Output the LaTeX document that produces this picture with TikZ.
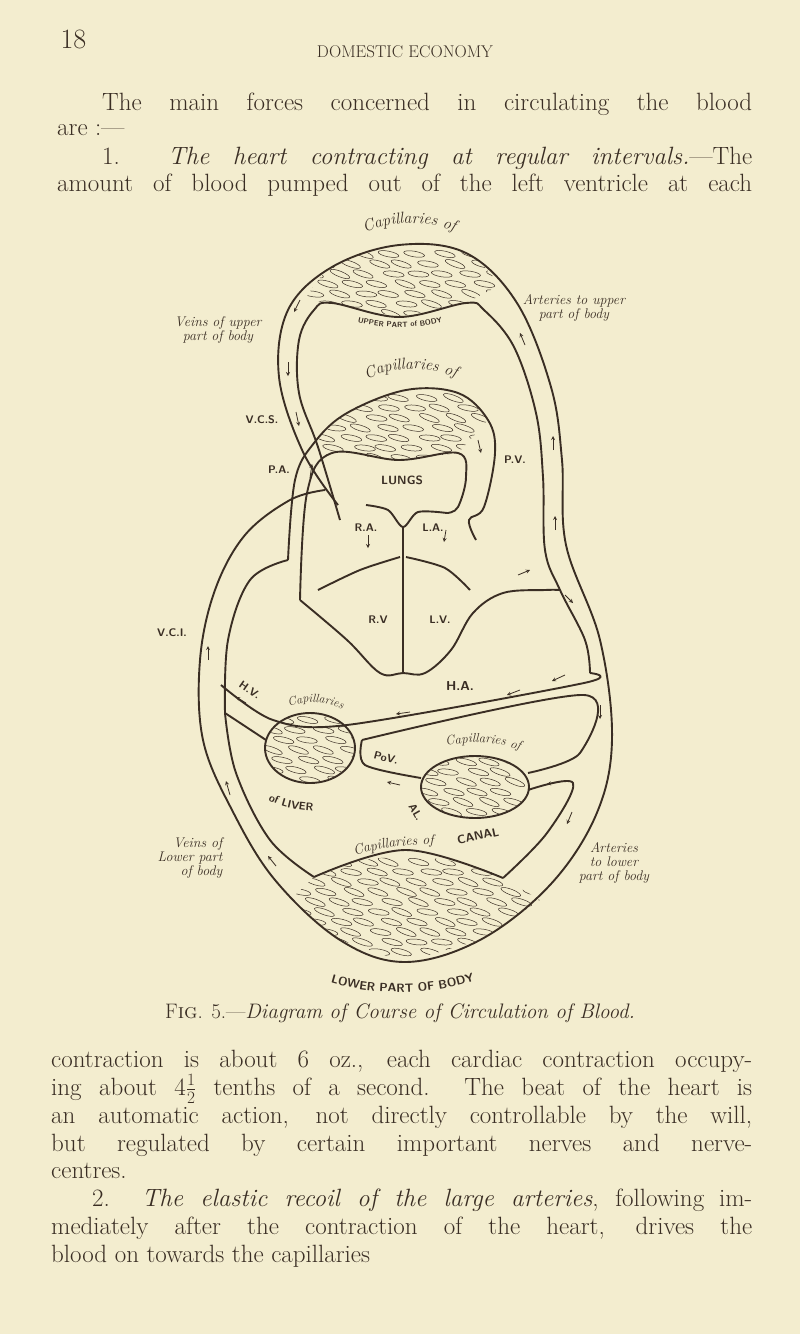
\documentclass[tikz,border=0pt]{standalone}
\usepackage{tikz}
\usetikzlibrary{decorations.text}

\definecolor{paper}{HTML}{F3EDCF}
\definecolor{ink}{HTML}{3A2E24}

\tikzset{
  vessel/.style={draw=ink, line width=1.9pt, line join=round},
  capil/.style={draw=ink, line width=0.5pt},
  flowarrow/.style={draw=ink, line width=0.8pt, -stealth},
  hand/.style={text=ink, font=\fontsize{14}{14}\selectfont\itshape, align=center, inner sep=0pt},
  caps/.style={text=ink, font=\fontsize{11}{12}\selectfont\sffamily\bfseries, inner sep=0pt},
  textline/.style={text=ink, anchor=base west, inner sep=0pt, font=\fontsize{25}{28}\selectfont}
}

% one justified line of the page
\newcommand\pageline[4]{\node[textline] (#1) at (#2,#3) {\makebox[\dimexpr752pt-#2pt\relax][s]{#4}};}
\newcommand\lastline[4]{\node[textline] (#1) at (#2,#3) {#4};}

% capillary pattern inside a clipped region
\newcommand\capillaries[5]{%
  \begin{scope}
    \clip #1;
    \foreach \y [count=\r] in {#4,#5,...,#3} {
      \foreach \x in {#2} {
        \pgfmathsetmacro\tilt{-14+rand*8}
        \pgfmathsetmacro\xx{\x+mod(\r,2)*13+rand*3}
        \draw[capil, rotate around={\tilt:(\xx,\y)}] (\xx,\y) ellipse (10.5 and 2.8);
      }
    }
  \end{scope}}

\begin{document}
\begin{tikzpicture}[x=1pt, y=-1pt]
  \pgfmathsetseed{7}
  \fill[paper] (0,0) rectangle (800,1334);
  \useasboundingbox (0,0) rectangle (800,1334);

  % page head and first lines
  \node[text=ink, anchor=base west, font=\fontsize{28}{30}\selectfont] (folio) at (57,48) {18};
  \node[text=ink, anchor=base, font=\fontsize{17}{19}\selectfont] (runhead) at (405,57) {DOMESTIC ECONOMY};
  \pageline{lineA}{102}{110}{The main forces concerned in circulating the blood}
  \lastline{lineB}{57}{135}{are :---}
  \pageline{lineC}{102}{164}{1. \textit{The heart contracting at regular intervals.}---The}
  \pageline{lineD}{57}{191}{amount of blood pumped out of the left ventricle at each}

  % vessels: outer line of the whole circulation
  \draw[vessel] plot[smooth, tension=0.6] coordinates {(338,505) (303,452) (279,377) (288,310) (332,267) (399,245) (466,253) (517,303) (551,387) (562,460) (566,545) (600,640) (612,740) (596,815) (550,885) (480,940) (405,962) (340,940) (275,880) (232,810) (203,740) (200,660) (215,590) (245,535) (290,500) (325,490)};
  % upper loop, inner line
  \draw[vessel] plot[smooth, tension=0.6] coordinates {(340,520) (318,447) (299,393) (299,340) (314,310) (332,303) (399,317) (466,303) (484,310) (514,347) (536,413) (543,477) (545,550) (560,590) (585,640) (590,673)};
  % lung loop
  \draw[vessel] plot[smooth, tension=0.6] coordinates {(288,560) (295,480) (314,443) (347,413) (406,390) (458,393) (488,420) (495,453) (484,507) (469,520) (476,540)};
  \draw[vessel] plot[smooth, tension=0.6] coordinates {(300,600) (307,493) (332,453) (399,460) (458,453) (466,477) (458,507) (447,513)};
  % heart
  \draw[vessel] (403,527) -- (403,673);
  \draw[vessel] plot[smooth, tension=0.6] coordinates {(300,600) (347,640) (380,673) (403,673) (425,673) (451,650) (473,613) (503,593) (545,590) (560,590)};
  \draw[vessel] plot[smooth] coordinates {(318,590) (360,570) (400,557)};
  \draw[vessel] plot[smooth] coordinates {(406,557) (445,568) (470,590)};
  \draw[vessel] plot[smooth] coordinates {(366,505) (388,510) (403,527) (418,512) (447,513)};
  % vena cava inferior, inner line
  \draw[vessel] plot[smooth, tension=0.6] coordinates {(225,713) (228,640) (250,580) (288,560)};
  % hepatic vein and artery band
  \draw[vessel] plot[smooth, tension=0.5] coordinates {(221,685) (273,720) (347,725) (584,683) (590,673)};
  \draw[vessel] plot[smooth, tension=0.5] coordinates {(225,713) (266,740)};
  \draw[vessel] plot[smooth, tension=0.5] coordinates {(362,740) (584,695) (580,753) (528,773)};
  \draw[vessel] plot[smooth, tension=0.5] coordinates {(362,740) (365,765) (421,778)};
  % liver and alimentary canal
  \draw[vessel] (310,748) ellipse (45 and 35);
  \draw[vessel] (475,787) ellipse (54 and 31);
  \capillaries{(310,748) ellipse (44 and 34)}{270,296,...,350}{780}{720}{730}
  \capillaries{(475,787) ellipse (53 and 30)}{425,451,...,525}{818}{762}{772}
  % lower loop, inner line
  \draw[vessel] plot[smooth, tension=0.6] coordinates {(225,713) (236,773) (270,840) (314,877)};
  \draw[vessel] plot[smooth, tension=0.6] coordinates {(314,877) (406,850) (503,878)};
  \draw[vessel] plot[smooth, tension=0.6] coordinates {(503,878) (547,833) (573,783) (528,790)};

  % capillaries of upper part, lungs and lower part
  \capillaries{plot[smooth] coordinates {(305,300) (332,267) (399,245) (466,253) (500,285)} -- (466,303) -- (399,317) -- (332,303) -- cycle}{300,326,...,500}{316}{254}{264}
  \capillaries{plot[smooth] coordinates {(314,443) (347,413) (406,390) (458,393) (488,420)} -- (458,453) -- (399,460) -- (332,453) -- cycle}{310,336,...,490}{458}{398}{408}
  \capillaries{(314,877) .. controls (360,850) and (450,850) .. (503,878) -- (540,900) -- (480,940) -- (405,962) -- (340,940) -- (290,900) -- cycle}{300,326,...,540}{960}{862}{872}

  % flow arrows
  \draw[flowarrow] (300,300) -- ++(-6,12);
  \draw[flowarrow] (288,362) -- ++(0,14);
  \draw[flowarrow] (296,412) -- ++(3,14);
  \draw[flowarrow] (310,478) -- ++(2,-14);
  \draw[flowarrow] (525,345) -- ++(-5,-12);
  \draw[flowarrow] (553,450) -- ++(0,-14);
  \draw[flowarrow] (555,530) -- ++(0,-14);
  \draw[flowarrow] (478,440) -- ++(3,13);
  \draw[flowarrow] (368,535) -- ++(0,13);
  \draw[flowarrow] (446,530) -- ++(-2,12);
  \draw[flowarrow] (518,575) -- ++(12,-5);
  \draw[flowarrow] (565,595) -- ++(8,8);
  \draw[flowarrow] (208,660) -- ++(0,-14);
  \draw[flowarrow] (230,795) -- ++(-4,-14);
  \draw[flowarrow] (276,866) -- ++(-8,-10);
  \draw[flowarrow] (600,705) -- ++(0,14);
  \draw[flowarrow] (572,812) -- ++(-5,12);
  \draw[flowarrow] (565,675) -- ++(-13,6);
  \draw[flowarrow] (520,690) -- ++(-13,5);
  \draw[flowarrow] (410,712) -- ++(-14,2);
  \draw[flowarrow] (246,703) -- ++(-10,-6);
  \draw[flowarrow] (400,785) -- ++(-13,-3);
  \draw[flowarrow] (560,782) -- ++(-13,2);

  % labels of the diagram
  \path[decorate, decoration={text along path, text align=center, text={|\fontsize{16}{17}\selectfont\itshape\color{ink}|Capillaries of}}] (328,258) .. controls (375,212) and (445,212) .. (492,255);
  \path[decorate, decoration={text along path, text align=center, text={|\fontsize{7.5}{8}\selectfont\sffamily\bfseries\color{ink}|UPPER PART of BODY}}] (330,314) .. controls (380,332) and (420,332) .. (470,313);
  \path[decorate, decoration={text along path, text align=center, text={|\fontsize{16}{17}\selectfont\itshape\color{ink}|Capillaries of}}] (333,403) .. controls (378,358) and (445,358) .. (490,400);
  \node[caps, font=\fontsize{12}{13}\selectfont\sffamily\bfseries] (lungs) at (402,480) {LUNGS};
  \node[hand] (veinsup) at (218,330) {Veins of upper\\part of body};
  \node[hand] (artsup) at (574,308) {Arteries to upper\\part of body};
  \node[caps] (vcs) at (262,420) {V.C.S.};
  \node[caps] (pa) at (279,470) {P.A.};
  \node[caps] (pv) at (515,460) {P.V.};
  \node[caps] (ra) at (366,528) {R.A.};
  \node[caps] (la) at (433,528) {L.A.};
  \node[caps] (rv) at (378,620) {R.V};
  \node[caps] (lv) at (440,620) {L.V.};
  \node[caps] (vci) at (172,633) {V.C.I.};
  \node[caps, rotate=-35] (hv) at (250,690) {H.V.};
  \node[caps, font=\fontsize{13}{14}\selectfont\sffamily\bfseries] (ha) at (460,686) {H.A.};
  \node[caps, rotate=-15] (pov) at (386,758) {PoV.};
  \path[decorate, decoration={text along path, text align=center, text={|\fontsize{12}{13}\selectfont\itshape\color{ink}|Capillaries}}] (270,716) .. controls (300,697) and (330,697) .. (360,720);
  \path[decorate, decoration={text along path, text align=center, text={|\fontsize{11}{12}\selectfont\sffamily\bfseries\color{ink}|of LIVER}}] (246,772) .. controls (256,808) and (300,815) .. (350,810);
  \path[decorate, decoration={text along path, text align=center, text={|\fontsize{13}{14}\selectfont\itshape\color{ink}|Capillaries of}}] (408,762) .. controls (450,734) and (512,736) .. (556,770);
  \node[caps, rotate=-60] (al) at (416,812) {AL.};
  \node[caps, font=\fontsize{12}{13}\selectfont\sffamily\bfseries, rotate=12] (canal) at (478,836) {CANAL};
  \path[decorate, decoration={text along path, text align=center, text={|\fontsize{14}{15}\selectfont\itshape\color{ink}|Capillaries of}}] (322,872) .. controls (360,846) and (420,840) .. (470,848);
  \node[hand, align=right] (veinslow) at (190,858) {Veins of\\Lower part\\of body};
  \node[hand] (artslow) at (614,863) {Arteries\\to lower\\part of body};
  \path[decorate, decoration={text along path, text align=center, text={|\fontsize{12}{13}\selectfont\sffamily\bfseries\color{ink}|LOWER PART OF BODY}}] (280,955) .. controls (330,1005) and (470,1005) .. (525,952);

  % caption and the rest of the page
  \node[text=ink, anchor=base, font=\fontsize{21}{23}\selectfont] (caption) at (400,1018) {F\textsc{ig}. 5.---\textit{Diagram of Course of Circulation of Blood.}};
  \pageline{lineE}{51}{1067}{contraction is about 6 oz., each cardiac contraction occupy-}
  \pageline{lineF}{51}{1095}{ing about 4$\frac{1}{2}$ tenths of a second.\ \ The beat of the heart is}
  \pageline{lineG}{51}{1123}{an automatic action, not directly controllable by the will,}
  \pageline{lineH}{51}{1151}{but regulated by certain important nerves and nerve-}
  \lastline{lineI}{51}{1178}{centres.}
  \pageline{lineJ}{92}{1206}{2. \textit{The elastic recoil of the large arteries}, following im-}
  \pageline{lineK}{51}{1234}{mediately after the contraction of the heart, drives the}
  \lastline{lineL}{51}{1262}{blood on towards the capillaries}
\end{tikzpicture}
\end{document}
